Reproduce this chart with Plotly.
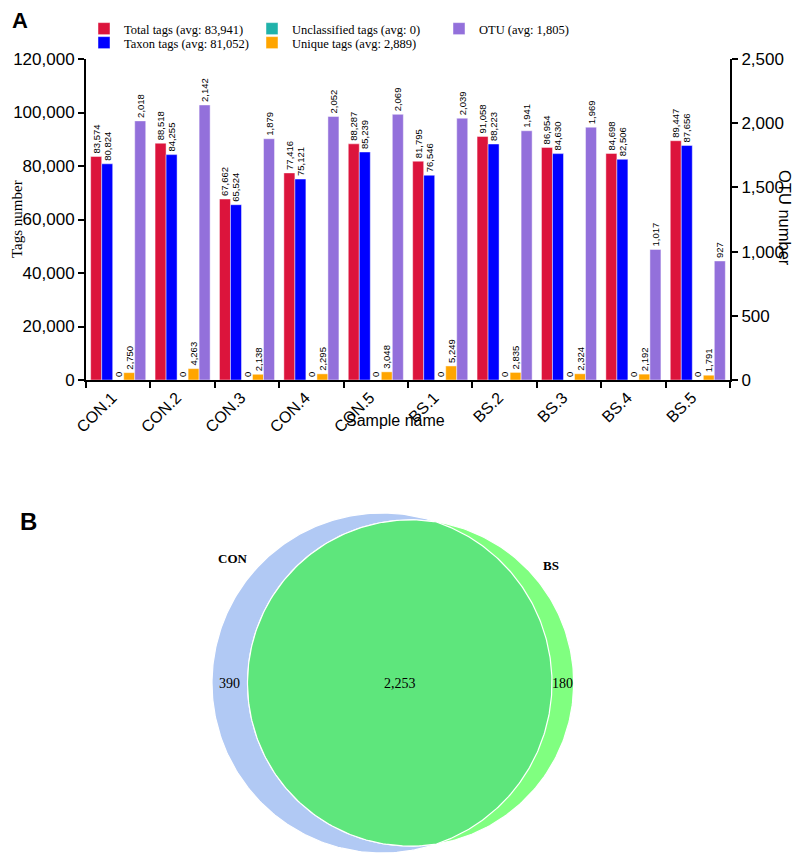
import numpy as np
import plotly.graph_objects as go

# ---------------- data ----------------
samples = ["CON.1", "CON.2", "CON.3", "CON.4", "CON.5", "BS.1", "BS.2", "BS.3", "BS.4", "BS.5"]
total_tags = [83574, 88518, 67662, 77416, 88287, 81795, 91058, 86954, 84698, 89447]
taxon_tags = [80824, 84255, 65524, 75121, 85239, 76546, 88223, 84630, 82506, 87656]
unclassified_tags = [0, 0, 0, 0, 0, 0, 0, 0, 0, 0]
unique_tags = [2750, 4263, 2138, 2295, 3048, 5249, 2835, 2324, 2192, 1791]
otu_counts = [2018, 2142, 1879, 2052, 2069, 2039, 1941, 1969, 1017, 927]

venn_sets = ["CON", "BS"]
con_only = 390
shared = 2253
bs_only = 180

# ---------------- layout constants ----------------
W, H = 800, 855
OFF = 8  # page body margin offset
SANS = "Liberation Sans, Arial"
SERIF = "Liberation Serif, Times New Roman"


def fx(px):
    return (px - OFF) / W


def fy(py):
    return 1 - (py - OFF) / H


PX_L, PX_R, PX_T, PX_B = 86, 730, 59, 380

fig = go.Figure()

series = [
    ("Total tags", total_tags, "#dc143c", "y", "legend"),
    ("Taxon tags", taxon_tags, "#0000ff", "y", "legend2"),
    ("Unclassified tags", unclassified_tags, "#20b2aa", "y", "legend3"),
    ("Unique tags", unique_tags, "#ffa500", "y", "legend4"),
    ("OTU", otu_counts, "#9370db", "y2", "legend5"),
]
bar_w = 0.171
start = -2.5 * bar_w
for i, (name, vals, col, yax, leg) in enumerate(series):
    avg = int(np.floor(np.mean(vals) + 0.5))
    fig.add_trace(go.Bar(
        x=samples, y=vals, name=f"{name} (avg: {avg:,})",
        marker=dict(color=col, line=dict(color="rgba(255,255,255,0.45)", width=1)),
        width=bar_w, offset=start + i * bar_w,
        text=[f"{v:,}" for v in vals], textposition="outside", textangle=-90,
        textfont=dict(family=SANS, size=9.5, color="black"),
        constraintext="none", cliponaxis=False,
        yaxis=yax, xaxis="x", legend=leg, hoverinfo="skip",
    ))

# ---------------- Venn (area proportional) ----------------
a1 = con_only + shared
a2 = bs_only + shared
r1 = np.sqrt(a1 / np.pi)
r2 = np.sqrt(a2 / np.pi)


def lens_area(d):
    if d <= abs(r1 - r2):
        return np.pi * min(r1, r2) ** 2
    if d >= r1 + r2:
        return 0.0
    t1 = np.arccos((d * d + r1 * r1 - r2 * r2) / (2 * d * r1))
    t2 = np.arccos((d * d + r2 * r2 - r1 * r1) / (2 * d * r2))
    k = 0.5 * np.sqrt((-d + r1 + r2) * (d + r1 - r2) * (d - r1 + r2) * (d + r1 + r2))
    return r1 * r1 * t1 + r2 * r2 * t2 - k


lo, hi = abs(r1 - r2) + 1e-9, r1 + r2
for _ in range(200):
    mid = 0.5 * (lo + hi)
    if lens_area(mid) > shared:
        lo = mid
    else:
        hi = mid
d = 0.5 * (lo + hi)

th = np.linspace(0, 2 * np.pi, 361)
fig.add_trace(go.Scatter(x=r1 * np.cos(th), y=r1 * np.sin(th), mode="lines", fill="toself",
                         fillcolor="#b1c9f4", line=dict(color="white", width=1.2),
                         xaxis="x2", yaxis="y3", showlegend=False, hoverinfo="skip"))
fig.add_trace(go.Scatter(x=d + r2 * np.cos(th), y=r2 * np.sin(th), mode="lines", fill="toself",
                         fillcolor="#80ff80", line=dict(color="white", width=1.2),
                         xaxis="x2", yaxis="y3", showlegend=False, hoverinfo="skip"))
xi = (d * d + r1 * r1 - r2 * r2) / (2 * d)
yi = np.sqrt(max(r1 * r1 - xi * xi, 0))
ang1 = np.arctan2(yi, xi)
ang2 = np.arctan2(yi, xi - d)
t_a = np.linspace(-ang1, ang1, 200)
t_b = np.linspace(ang2, 2 * np.pi - ang2, 200)
lx = np.concatenate([r1 * np.cos(t_a), d + r2 * np.cos(t_b)])
ly = np.concatenate([r1 * np.sin(t_a), r2 * np.sin(t_b)])
fig.add_trace(go.Scatter(x=lx, y=ly, mode="lines", fill="toself",
                         fillcolor="#5ee67c", line=dict(color="white", width=1.2),
                         xaxis="x2", yaxis="y3", showlegend=False, hoverinfo="skip"))

# Venn placement (pixels in the screenshot)
VC_X, VC_Y, VR_PX = 382, 683, 170
VY_TOP = 490
s = VR_PX / r1
x2_range = [(OFF - VC_X) / s, (OFF + W - VC_X) / s]
y3_range = [(VC_Y - (OFF + H)) / s, (VC_Y - VY_TOP) / s]

venn_font = dict(family=SERIF, size=14, color="black")
C = dict(xanchor="center", yanchor="middle", showarrow=False)
ann = [
    dict(x=(-r1 + (d - r2)) / 2, y=0, xref="x2", yref="y3", text=f"{con_only:,}", font=venn_font, **C),
    dict(x=((d - r2) + r1) / 2, y=0, xref="x2", yref="y3", text=f"{shared:,}", font=venn_font, **C),
    dict(x=(r1 + d + r2) / 2, y=0, xref="x2", yref="y3", text=f"{bs_only:,}", font=venn_font, **C),
    dict(x=(r1 + 24 / s) * np.cos(np.radians(140)), y=(r1 + 24 / s) * np.sin(np.radians(140)),
         xref="x2", yref="y3", text=f"<b>{venn_sets[0]}</b>",
         font=dict(family=SERIF, size=13, color="black"), **C),
    dict(x=d + (r2 + 20 / s) * np.cos(np.radians(40)), y=(r2 + 20 / s) * np.sin(np.radians(40)),
         xref="x2", yref="y3", text=f"<b>{venn_sets[1]}</b>",
         font=dict(family=SERIF, size=13, color="black"), **C),
    # panel labels and axis titles
    dict(x=fx(20), y=fy(20), xref="paper", yref="paper", text="<b>A</b>",
         font=dict(family=SANS, size=22, color="black"), **C),
    dict(x=fx(28), y=fy(521), xref="paper", yref="paper", text="<b>B</b>",
         font=dict(family=SANS, size=24, color="black"), **C),
    dict(x=fx(17), y=fy(219), xref="paper", yref="paper", text="Tags number", textangle=-90,
         font=dict(family=SERIF, size=15, color="black"), **C),
    dict(x=fx(785), y=fy(218), xref="paper", yref="paper", text="OTU number", textangle=90,
         font=dict(family=SANS, size=16.5, color="black"), **C),
    dict(x=fx(395), y=fy(420), xref="paper", yref="paper", text="Sample name",
         font=dict(family=SANS, size=16, color="black"), **C),
]

axis_common = dict(showline=True, linecolor="black", linewidth=2, ticks="outside", ticklen=6,
                   tickwidth=2, tickcolor="black", showgrid=False, zeroline=False,
                   automargin=False, tickfont=dict(family=SANS, size=17, color="black"))

leg_font = dict(family=SERIF, size=12.5, color="black")


def leg(xp, yp):
    return dict(x=fx(xp), y=fy(yp), xref="container", yref="container", xanchor="left",
                yanchor="middle", font=leg_font, bgcolor="rgba(0,0,0,0)", borderwidth=0)


fig.update_layout(
    width=W, height=H, margin=dict(l=0, r=0, t=0, b=0, autoexpand=False),
    paper_bgcolor="white", plot_bgcolor="rgba(0,0,0,0)",
    barmode="overlay", showlegend=True,
    font=dict(family=SANS, color="black"),
    xaxis=dict(domain=[fx(PX_L), fx(PX_R)], anchor="y", type="category", range=[-0.5, 9.5],
               tickson="boundaries", tickangle=-45, ticklabelshift=-6,
               **{**axis_common, "tickfont": dict(family=SANS, size=16, color="black")}),
    yaxis=dict(domain=[fy(PX_B), fy(PX_T)], anchor="x", range=[0, 120000],
               tickvals=list(range(0, 120001, 20000)), tickformat=",", **axis_common),
    yaxis2=dict(overlaying="y", side="right", anchor="x", range=[0, 2500],
                tickvals=list(range(0, 2501, 500)), tickformat=",", **axis_common),
    xaxis2=dict(domain=[0, 1], anchor="y3", range=x2_range, visible=False),
    yaxis3=dict(domain=[0, fy(VY_TOP)], anchor="x2", range=y3_range, visible=False),
    legend=leg(84, 29), legend2=leg(84, 43), legend3=leg(252, 29), legend4=leg(252, 43),
    legend5=leg(439, 29),
    annotations=ann,
)

fig.write_html("out.html")
